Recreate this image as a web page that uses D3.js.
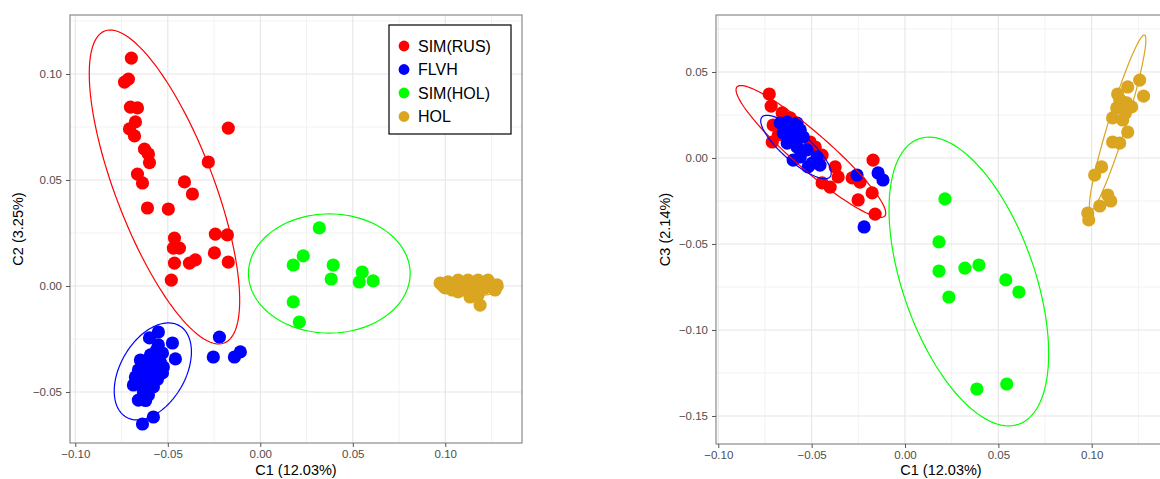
<!DOCTYPE html>
<html><head><meta charset="utf-8">
<script src="https://cdn.jsdelivr.net/npm/d3@7"></script>
<style>
body{margin:0;background:#fff;}
svg{display:block;font-family:"Liberation Sans",Arial,sans-serif;}
</style>
</head><body>
<svg id="chart" width="1160" height="479"></svg>
<script>
// ---------- categories / styling keys ----------
const groups = ["SIM(RUS)", "FLVH", "SIM(HOL)", "HOL"];
const groupColors = ["#ff0000", "#0000ff", "#00ff00", "#daa520"];

// ---------- tick labels ----------
const xTicks = [-0.10, -0.05, 0.00, 0.05, 0.10];
const xTickLabels = ["\u22120.10", "\u22120.05", "0.00", "0.05", "0.10"];
const xMinorTicks = [-0.075, -0.025, 0.025, 0.075, 0.125];
const c2Ticks = [-0.05, 0.00, 0.05, 0.10];
const c2TickLabels = ["\u22120.05", "0.00", "0.05", "0.10"];
const c2MinorTicks = [-0.075, -0.025, 0.025, 0.075, 0.125];
const c3Ticks = [-0.15, -0.10, -0.05, 0.00, 0.05];
const c3TickLabels = ["\u22120.15", "\u22120.10", "\u22120.05", "0.00", "0.05"];
const c3MinorTicks = [-0.125, -0.075, -0.025, 0.025, 0.075];
const xTitle = "C1 (12.03%)";
const c2Title = "C2 (3.25%)";
const c3Title = "C3 (2.14%)";

// ---------- panel 1: C1 vs C2 ----------
const simRusC1C2 = [
  [-0.0697, 0.1075], [-0.0713, 0.0976], [-0.0734, 0.0962], [-0.0702, 0.0844],
  [-0.0664, 0.0840], [-0.0675, 0.0774], [-0.0707, 0.0741], [-0.0680, 0.0708],
  [-0.0626, 0.0646], [-0.0605, 0.0623], [-0.0599, 0.0582], [-0.0173, 0.0745],
  [-0.0281, 0.0585], [-0.0664, 0.0528], [-0.0637, 0.0486], [-0.0410, 0.0491],
  [-0.0367, 0.0434], [-0.0610, 0.0368], [-0.0497, 0.0363], [-0.0464, 0.0226],
  [-0.0243, 0.0245], [-0.0178, 0.0241], [-0.0470, 0.0179], [-0.0437, 0.0179],
  [-0.0464, 0.0108], [-0.0383, 0.0108], [-0.0351, 0.0123], [-0.0248, 0.0156],
  [-0.0173, 0.0113], [-0.0481, 0.0028]
];
const flvhC1C2 = [
  [-0.0551, -0.0217], [-0.0599, -0.0245], [-0.0475, -0.0269], [-0.0459, -0.0344],
  [-0.0529, -0.0316], [-0.0567, -0.0349], [-0.0610, -0.0373], [-0.0659, -0.0396],
  [-0.0675, -0.0429], [-0.0583, -0.0410], [-0.0529, -0.0410], [-0.0621, -0.0443],
  [-0.0686, -0.0467], [-0.0578, -0.0476], [-0.0632, -0.0500], [-0.0659, -0.0538],
  [-0.0605, -0.0514], [-0.0578, -0.0618], [-0.0637, -0.0651], [-0.0524, -0.0382],
  [-0.0648, -0.0349], [-0.0594, -0.0325], [-0.0551, -0.0278], [-0.0560, -0.0300],
  [-0.0615, -0.0420], [-0.0645, -0.0460], [-0.0600, -0.0470], [-0.0556, -0.0440],
  [-0.0620, -0.0540], [-0.0540, -0.0360], [-0.0650, -0.0420], [-0.0590, -0.0390],
  [-0.0221, -0.0241], [-0.0254, -0.0335], [-0.0140, -0.0335], [-0.0108, -0.0311]
];
const simHolC1C2 = [
  [0.0319, 0.0274], [0.0232, 0.0142], [0.0178, 0.0099], [0.0394, 0.0099],
  [0.0383, 0.0033], [0.0551, 0.0066], [0.0535, 0.0019], [0.0610, 0.0024],
  [0.0178, -0.0075], [0.0211, -0.0170]
];
const holC1C2 = [
  [0.0972, 0.0014], [0.1015, 0.0019], [0.1069, 0.0028], [0.1123, 0.0028],
  [0.1177, 0.0028], [0.1231, 0.0028], [0.1280, 0.0005], [0.1269, -0.0019],
  [0.1215, -0.0009], [0.1161, -0.0009], [0.1107, -0.0019], [0.1069, -0.0028],
  [0.1134, -0.0052], [0.1177, -0.0042], [0.1188, -0.0090], [0.0999, -0.0009],
  [0.1037, -0.0019], [0.1091, 0.0009], [0.1145, 0.0005]
];
// ellipses (data units): [centre C1, centre C2, axis1 dC1, axis1 dC2, axis2 dC1, axis2 dC2]
const simRusEllipseC1C2 = [-0.0518, 0.0467, 0.0323, -0.0736, -0.0247, -0.0083];
const flvhEllipseC1C2 = [-0.0581, -0.0403, 0.0143, 0.0216, 0.0152, -0.0076];
const simHolEllipseC1C2 = [0.0373, 0.0059, 0.0437, 0.0, 0.0, 0.0281];
const holEllipseC1C2 = [0.1134, -0.0007, 0.0178, 0.0, 0.0, 0.0040];

// ---------- panel 2: C1 vs C3 ----------
const simRusC1C3 = [
  [-0.0727, 0.0372], [-0.0717, 0.0302], [-0.0658, 0.0262], [-0.0706, 0.0192],
  [-0.0711, 0.0093], [-0.0615, 0.0233], [-0.0679, 0.0134], [-0.0561, 0.0047],
  [-0.0508, 0.0093], [-0.0481, 0.0064], [-0.0444, 0.0017], [-0.0374, -0.0052],
  [-0.0358, -0.0110], [-0.0444, -0.0145], [-0.0401, -0.0169], [-0.0283, -0.0116],
  [-0.0241, -0.0140], [-0.0171, -0.0012], [-0.0251, -0.0244], [-0.0176, -0.0203],
  [-0.0160, -0.0326]
];
const flvhC1C3 = [
  [-0.0257, -0.0099], [-0.0144, -0.0087], [-0.0118, -0.0128], [-0.0219, -0.0401],
  [-0.0668, 0.0203], [-0.0631, 0.0209], [-0.0578, 0.0203], [-0.0652, 0.0145],
  [-0.0599, 0.0122], [-0.0545, 0.0122], [-0.0631, 0.0087], [-0.0578, 0.0064],
  [-0.0524, 0.0047], [-0.0471, 0.0006], [-0.0561, 0.0006], [-0.0497, -0.0029],
  [-0.0455, -0.0041], [-0.0599, -0.0012], [-0.0519, -0.0052], [-0.0615, 0.0174],
  [-0.0561, 0.0163]
];
const simHolC1C3 = [
  [0.0214, -0.0238], [0.0182, -0.0488], [0.0182, -0.0657], [0.0321, -0.0640],
  [0.0396, -0.0622], [0.0235, -0.0808], [0.0540, -0.0709], [0.0610, -0.0779],
  [0.0385, -0.1343], [0.0545, -0.1314]
];
const holC1C3 = [
  [0.1257, 0.0453], [0.1193, 0.0413], [0.1278, 0.0360], [0.1139, 0.0372],
  [0.1187, 0.0320], [0.1134, 0.0291], [0.1214, 0.0297], [0.1112, 0.0233],
  [0.1166, 0.0221], [0.1193, 0.0151], [0.1112, 0.0093], [0.1150, 0.0087],
  [0.1053, -0.0052], [0.1016, -0.0099], [0.1086, -0.0215], [0.1102, -0.0250],
  [0.1043, -0.0279], [0.0979, -0.0320], [0.0984, -0.0360], [0.1160, 0.0330],
  [0.1180, 0.0260], [0.1150, 0.0340]
];
const simRusEllipseC1C3 = [-0.0504, 0.0038, 0.0396, -0.0375, -0.0063, -0.0079];
const flvhEllipseC1C3 = [-0.0584, 0.0064, 0.0182, -0.0174, -0.0050, -0.0061];
const simHolEllipseC1C3 = [0.0342, -0.0718, 0.0267, -0.0830, -0.0334, -0.0127];
const holEllipseC1C3 = [0.1139, 0.0206, 0.0144, 0.0509, 0.0046, -0.0015];

// ---------- drawing ----------
const svg = d3.select("#chart");
svg.append("rect").attr("width", 1160).attr("height", 479).attr("fill", "#fff");

function drawPanel(cfg, idx) {
  const x = d3.scaleLinear().domain(cfg.xDomain).range([cfg.left, cfg.right]);
  const y = d3.scaleLinear().domain(cfg.yDomain).range([cfg.bottom, cfg.top]);
  const g = svg.append("g");
  const clipId = "clip" + idx;
  svg.append("defs").append("clipPath").attr("id", clipId)
    .append("rect").attr("x", cfg.left).attr("y", cfg.top)
    .attr("width", cfg.right - cfg.left).attr("height", cfg.bottom - cfg.top);

  // grid
  const grid = g.append("g");
  grid.selectAll(".vmin").data(xMinorTicks.filter(v => x(v) > cfg.left && x(v) < cfg.right)).join("line")
    .attr("x1", d => x(d)).attr("x2", d => x(d)).attr("y1", cfg.top).attr("y2", cfg.bottom)
    .attr("stroke", "#f2f2f2").attr("stroke-width", 1);
  grid.selectAll(".hmin").data(cfg.yMinor.filter(v => y(v) > cfg.top && y(v) < cfg.bottom)).join("line")
    .attr("y1", d => y(d)).attr("y2", d => y(d)).attr("x1", cfg.left).attr("x2", cfg.right)
    .attr("stroke", "#f2f2f2").attr("stroke-width", 1);
  grid.selectAll(".vmaj").data(xTicks).join("line")
    .attr("x1", d => x(d)).attr("x2", d => x(d)).attr("y1", cfg.top).attr("y2", cfg.bottom)
    .attr("stroke", "#e6e6e6").attr("stroke-width", 1.1);
  grid.selectAll(".hmaj").data(cfg.yTicks).join("line")
    .attr("y1", d => y(d)).attr("y2", d => y(d)).attr("x1", cfg.left).attr("x2", cfg.right)
    .attr("stroke", "#e6e6e6").attr("stroke-width", 1.1);

  // points
  const content = g.append("g").attr("clip-path", `url(#${clipId})`);
  cfg.series.forEach((pts, i) => {
    content.append("g").selectAll("circle").data(pts).join("circle")
      .attr("cx", d => x(d[0])).attr("cy", d => y(d[1])).attr("r", 6.6)
      .attr("fill", groupColors[i]);
  });
  // ellipses
  const line = d3.line().x(d => x(d[0])).y(d => y(d[1])).curve(d3.curveLinearClosed);
  cfg.ellipses.forEach((e, i) => {
    const pts = d3.range(0, 120).map(k => {
      const t = k / 120 * 2 * Math.PI;
      return [e[0] + e[2] * Math.cos(t) + e[4] * Math.sin(t),
              e[1] + e[3] * Math.cos(t) + e[5] * Math.sin(t)];
    });
    content.append("path").attr("d", line(pts)).attr("fill", "none")
      .attr("stroke", groupColors[i]).attr("stroke-width", 1.2);
  });

  // border
  g.append("rect").attr("x", cfg.left).attr("y", cfg.top)
    .attr("width", cfg.right - cfg.left).attr("height", cfg.bottom - cfg.top)
    .attr("fill", "none").attr("stroke", "#808080").attr("stroke-width", 1.1);

  // axes
  const xAxis = d3.axisBottom(x).tickValues(xTicks).tickFormat((d, i) => xTickLabels[i])
    .tickSize(4).tickPadding(3).tickSizeOuter(0);
  const ax = g.append("g").attr("transform", `translate(0,${cfg.bottom})`).call(xAxis);
  const yAxis = d3.axisLeft(y).tickValues(cfg.yTicks).tickFormat((d, i) => cfg.yTickLabels[i])
    .tickSize(4).tickPadding(4).tickSizeOuter(0);
  const ay = g.append("g").attr("transform", `translate(${cfg.left},0)`).call(yAxis);
  [ax, ay].forEach(a => {
    a.select(".domain").remove();
    a.selectAll(".tick line").attr("stroke", "#555").attr("stroke-width", 1);
    a.selectAll(".tick text").attr("fill", "#4d4d4d").style("font-size", "11.5px")
      .style("font-family", '"Liberation Sans", Arial, sans-serif');
  });

  // titles
  g.append("text").attr("x", (cfg.left + cfg.right) / 2).attr("y", 475)
    .attr("text-anchor", "middle").style("font-size", "14.5px").attr("fill", "#000")
    .text(xTitle);
  g.append("text").attr("transform", `translate(${cfg.yTitleX},${(cfg.top + cfg.bottom) / 2}) rotate(-90)`)
    .attr("dy", "0.35em").attr("text-anchor", "middle").style("font-size", "14.5px")
    .attr("fill", "#000").text(cfg.yTitle);
}

drawPanel({
  left: 70, right: 522, top: 15, bottom: 443,
  xDomain: [-0.10287, 0.14146], yDomain: [-0.07406, 0.12783],
  yTicks: c2Ticks, yTickLabels: c2TickLabels, yMinor: c2MinorTicks,
  yTitle: c2Title, yTitleX: 18,
  series: [simRusC1C2, flvhC1C2, simHolC1C2, holC1C2],
  ellipses: [simRusEllipseC1C2, flvhEllipseC1C2, simHolEllipseC1C2, holEllipseC1C2]
}, 0);

drawPanel({
  left: 716, right: 1166, top: 15, bottom: 444,
  xDomain: [-0.10123, 0.1398], yDomain: [-0.16628, 0.08314],
  yTicks: c3Ticks, yTickLabels: c3TickLabels, yMinor: c3MinorTicks,
  yTitle: c3Title, yTitleX: 665,
  series: [simRusC1C3, flvhC1C3, simHolC1C3, holC1C3],
  ellipses: [simRusEllipseC1C3, flvhEllipseC1C3, simHolEllipseC1C3, holEllipseC1C3]
}, 1);

// legend
const lg = svg.append("g");
lg.append("rect").attr("x", 389).attr("y", 25).attr("width", 122).attr("height", 109)
  .attr("fill", "#fff").attr("stroke", "#000").attr("stroke-width", 1.2);
groups.forEach((name, i) => {
  const yy = 46 + i * 23.5;
  lg.append("circle").attr("cx", 404).attr("cy", yy).attr("r", 5.4).attr("fill", groupColors[i]);
  lg.append("text").attr("x", 418).attr("y", yy).attr("dy", "0.35em")
    .style("font-size", "16px").attr("fill", "#000").text(name);
});
</script>
</body></html>
